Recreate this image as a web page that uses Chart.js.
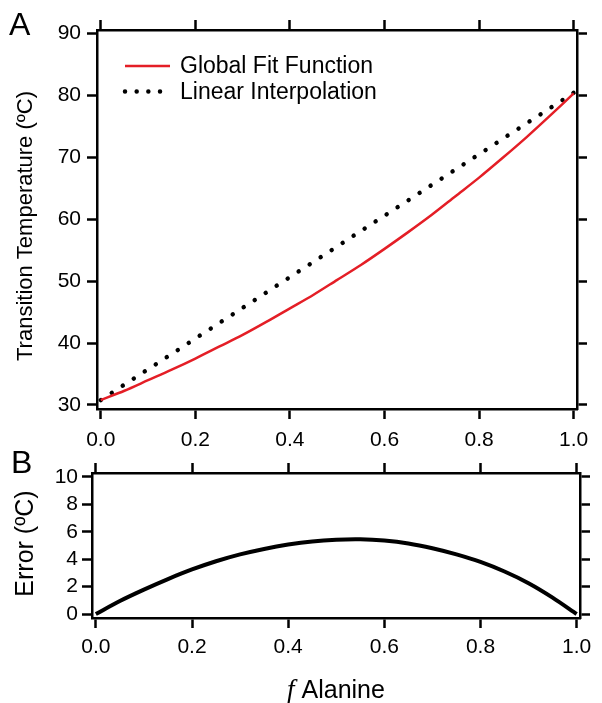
<!DOCTYPE html>
<html>
<head>
<meta charset="utf-8">
<script src="https://cdn.jsdelivr.net/npm/chart.js@4.4.1/dist/chart.umd.min.js"></script>
<style>
  html, body { margin: 0; padding: 0; background: #fff; }
  #wrap { position: relative; width: 602px; height: 703px; overflow: hidden; }
  .box { position: absolute; left: 0; width: 602px; }
  #boxA { top: 0; height: 455px; }
  #boxB { top: 455px; height: 248px; }
  .panel { position: absolute; font: 32px "Liberation Sans", Arial, sans-serif; color: #000; line-height: 1; }
</style>
</head>
<body>
<div id="wrap">
  <div class="box" id="boxA"><canvas id="chartA"></canvas></div>
  <div class="box" id="boxB"><canvas id="chartB"></canvas></div>
  <div class="panel" style="left:9px;top:8px">A</div>
  <div class="panel" style="left:11px;top:446px">B</div>
</div>
<script>
// Data
const fAla = [0, 0.05, 0.1, 0.15, 0.2, 0.25, 0.3, 0.35, 0.4, 0.45, 0.5,
  0.55, 0.6, 0.65, 0.7, 0.75, 0.8, 0.85, 0.9, 0.95, 1.0];
const fitTemp = [30.8, 32.3, 34.0, 35.7, 37.5, 39.4, 41.3, 43.4, 45.6, 47.8, 50.2,
  52.6, 55.2, 57.9, 60.7, 63.7, 66.7, 69.9, 73.2, 76.7, 80.3];
const linX = [0, 1.0];
const linTemp = [30.8, 80.4];
const errTemp = [0, 0.95, 1.78, 2.55, 3.25, 3.85, 4.35, 4.75, 5.07, 5.3, 5.42,
  5.45, 5.36, 5.15, 4.8, 4.35, 3.8, 3.1, 2.25, 1.2, 0];

const xTicks = [0, 0.2, 0.4, 0.6, 0.8, 1.0];
const yTicksA = [30, 40, 50, 60, 70, 80, 90];
const yTicksB = [0, 2, 4, 6, 8, 10];

const fitLabel = 'Global Fit Function';
const linLabel = 'Linear Interpolation';
const yTitleA = 'Transition Temperature (ºC)';
const yTitleB = 'Error (ºC)';
const xTitleVar = 'f';
const xTitleName = 'Alanine';

const FONT = '"Liberation Sans", Arial, sans-serif';
Chart.defaults.font.family = FONT;
Chart.defaults.font.size = 21;
Chart.defaults.color = '#000';

const toPoints = (xs, ys) => xs.map((x, i) => ({ x, y: ys[i] }));

// one axis in the boxed Igor style: outward ticks, thick frame
const axis = (pos, min, max, ticks, size, opts = {}) => ({
  type: 'linear',
  axis: (pos === 'top' || pos === 'bottom') ? 'x' : 'y',
  position: pos,
  min,
  max,
  afterBuildTicks: (s) => { s.ticks = ticks.map((v) => ({ value: v })); },
  afterFit: (s) => {
    if (pos === 'top' || pos === 'bottom') s.height = size;
    else s.width = size;
  },
  ticks: {
    display: !!opts.labels,
    autoSkip: false,
    maxRotation: 0,
    padding: opts.pad || 3,
    callback: opts.fmt || ((v) => v),
  },
  grid: {
    drawOnChartArea: false,
    tickLength: 10,
    tickWidth: 2.5,
    tickColor: '#000',
  },
  border: { display: true, color: '#000', width: 2.5 },
});

// rotated y title, placed by hand so it can sit off-centre like the original
const yTitle = (text, size, cx, cy) => ({
  id: 'yTitle',
  afterDraw(chart) {
    const { ctx } = chart;
    ctx.save();
    ctx.translate(cx, cy);
    ctx.rotate(-Math.PI / 2);
    ctx.font = `${size}px ${FONT}`;
    ctx.fillStyle = '#000';
    ctx.textAlign = 'center';
    ctx.textBaseline = 'middle';
    ctx.fillText(text, 0, 0);
    ctx.restore();
  },
});

const insideLegend = {
  id: 'insideLegend',
  afterDatasetsDraw(chart) {
    const { ctx, chartArea } = chart;
    ctx.save();
    chart.data.datasets.forEach((ds, i) => {
      const y = chartArea.top + 36 + i * 25.5;
      const x0 = chartArea.left + 28;
      const dotted = !!ds.borderDash;
      ctx.beginPath();
      ctx.strokeStyle = ds.borderColor;
      ctx.lineWidth = ds.borderWidth;
      ctx.lineCap = dotted ? 'round' : 'butt';
      ctx.setLineDash(dotted ? [0.01, 11.66] : []);
      ctx.moveTo(x0, y);
      ctx.lineTo(x0 + (dotted ? 36 : 45), y);
      ctx.stroke();
      ctx.setLineDash([]);
      ctx.fillStyle = '#000';
      ctx.font = `23px ${FONT}`;
      ctx.textBaseline = 'middle';
      ctx.fillText(ds.label, chartArea.left + 83, y + 1);
    });
    ctx.restore();
  },
};

const bottomTitle = {
  id: 'bottomTitle',
  afterDraw(chart) {
    const { ctx, chartArea } = chart;
    ctx.save();
    const varFont = 'italic 27px "Liberation Serif", "Times New Roman", serif';
    const nameFont = `25px ${FONT}`;
    ctx.font = varFont;
    const w1 = ctx.measureText(xTitleVar).width;
    ctx.font = nameFont;
    const rest = ` ${xTitleName}`;
    const w2 = ctx.measureText(rest).width;
    const x = (chartArea.left + chartArea.right) / 2 - (w1 + w2) / 2;
    const y = 243;
    ctx.fillStyle = '#000';
    ctx.textBaseline = 'alphabetic';
    ctx.font = varFont;
    ctx.fillText(xTitleVar, x, y);
    ctx.font = nameFont;
    ctx.fillText(rest, x + w1, y);
    ctx.restore();
  },
};

const X_MIN = -0.008;
const X_MAX = 1.007;
const fmtX = (v) => v.toFixed(1);

new Chart(document.getElementById('chartA'), {
  type: 'line',
  data: {
    datasets: [
      {
        label: fitLabel,
        data: toPoints(fAla, fitTemp),
        borderColor: '#e41e26',
        borderWidth: 2.5,
        pointRadius: 0,
        tension: 0.3,
        fill: false,
      },
      {
        label: linLabel,
        data: toPoints(linX, linTemp),
        borderColor: '#000',
        borderWidth: 4.5,
        borderDash: [0.01, 13.1],
        borderCapStyle: 'round',
        pointRadius: 0,
        fill: false,
      },
    ],
  },
  options: {
    responsive: true,
    maintainAspectRatio: false,
    animation: false,
    layout: { padding: 0 },
    scales: {
      x: axis('bottom', X_MIN, X_MAX, xTicks, 46, { labels: true, pad: 9, fmt: fmtX }),
      xTop: axis('top', X_MIN, X_MAX, xTicks, 30),
      y: axis('left', 29.35, 90.53, yTicksA, 97, { labels: true, pad: 6 }),
      yRight: axis('right', 29.35, 90.53, yTicksA, 25),
    },
    plugins: {
      legend: { display: false },
      tooltip: { enabled: false },
    },
  },
  plugins: [insideLegend, yTitle(yTitleA, 22, 26, 226)],
});

new Chart(document.getElementById('chartB'), {
  type: 'line',
  data: {
    datasets: [
      {
        label: yTitleB,
        data: toPoints(fAla, errTemp),
        borderColor: '#000',
        borderWidth: 4,
        pointRadius: 0,
        tension: 0.3,
        fill: false,
      },
    ],
  },
  options: {
    responsive: true,
    maintainAspectRatio: false,
    animation: false,
    layout: { padding: 0 },
    scales: {
      x: axis('bottom', X_MIN, X_MAX, xTicks, 85, { labels: true, pad: 7, fmt: fmtX }),
      xTop: axis('top', X_MIN, X_MAX, xTicks, 18),
      y: axis('left', -0.29, 10.29, yTicksB, 92, { labels: true, pad: 4 }),
      yRight: axis('right', -0.29, 10.29, yTicksB, 22),
    },
    plugins: {
      legend: { display: false },
      tooltip: { enabled: false },
    },
  },
  plugins: [bottomTitle, yTitle(yTitleB, 25, 26, 88.5)],
});
</script>
</body>
</html>
